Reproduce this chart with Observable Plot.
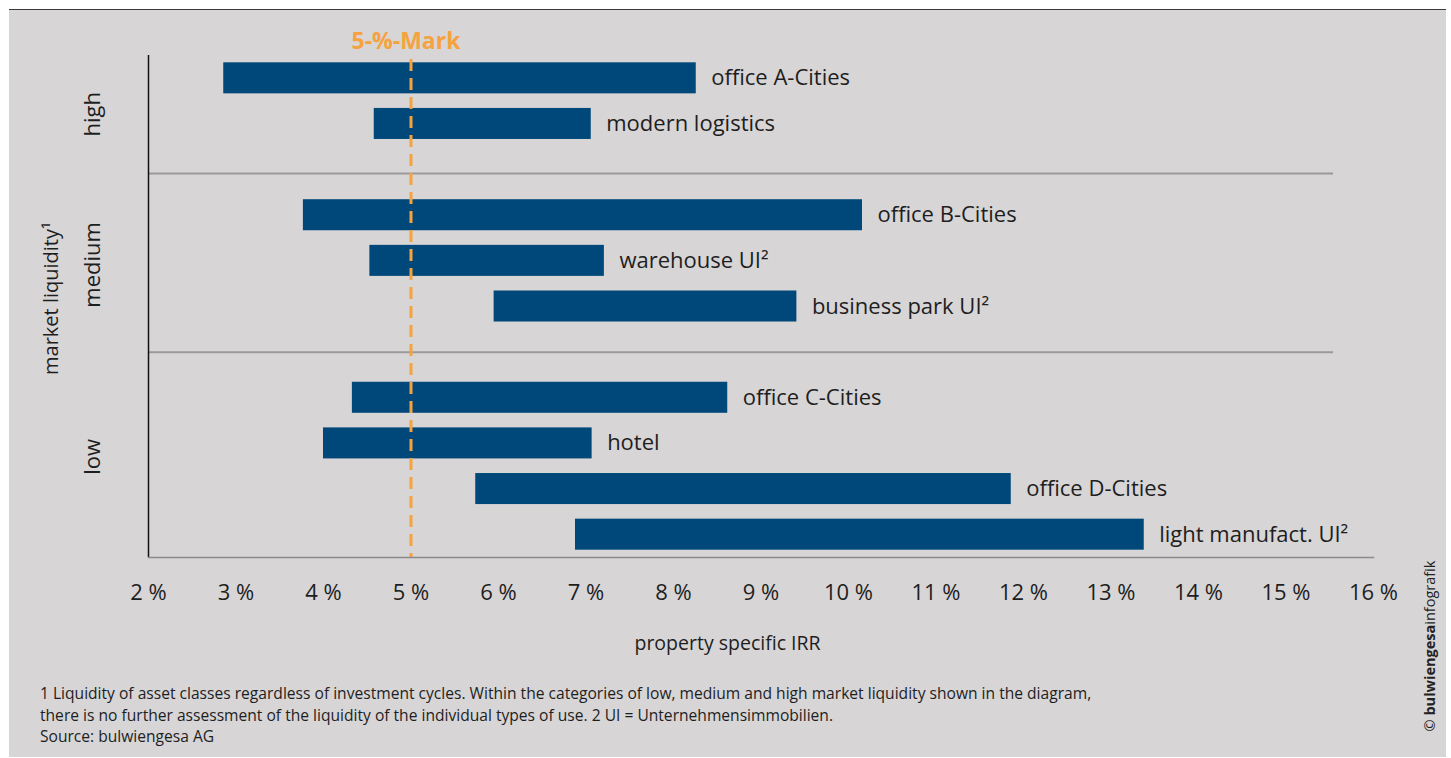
<!DOCTYPE html>
<html><head><meta charset="utf-8">
<script src="https://cdn.jsdelivr.net/npm/d3@7"></script>
<script src="https://cdn.jsdelivr.net/npm/@observablehq/plot@0.6"></script>
<style>
html,body{margin:0;padding:0;background:#fff;width:1451px;height:758px;overflow:hidden;font-family:"Open Sans",sans-serif;}
#panel{position:absolute;left:9px;top:9px;width:1437px;height:748px;background:#d7d5d6;border-top:1.5px solid #3a3a3a;box-sizing:border-box;}
#chart{position:absolute;left:0;top:0;}
#notes{position:absolute;left:40px;top:683px;font-size:15.6px;line-height:21.7px;color:#1e1e1e;white-space:nowrap;}
#copy{position:absolute;left:1430px;top:646px;transform:translate(-50%,-50%) rotate(-90deg);white-space:nowrap;font-size:14.5px;color:#222;line-height:1;}
</style></head><body>
<div id="panel"></div>
<div id="chart"></div>
<div id="notes">1 Liquidity of asset classes regardless of investment cycles. Within the categories of low, medium and high market liquidity shown in the diagram,<br>there is no further assessment of the liquidity of the individual types of use. 2 UI = Unternehmensimmobilien.<br>Source: bulwiengesa AG</div>
<div id="copy">© <b>bulwiengesa</b>infografik</div>
<script>
const categories = ["office A-Cities","modern logistics","office B-Cities","warehouse UI²","business park UI²","office C-Cities","hotel","office D-Cities","light manufact. UI²"];
const liquidity = ["high","high","medium","medium","medium","low","low","low","low"];
const irrMin = [2.86,4.58,3.77,4.53,5.95,4.33,4.00,5.74,6.88];
const irrMax = [8.26,7.06,10.16,7.21,9.41,8.62,7.07,11.86,13.38];
const xTicks = [2,3,4,5,6,7,8,9,10,11,12,13,14,15,16];
const liquidityLevels = ["high","medium","low"];
const markValue = 5;
const markLabel = "5-%-Mark";
const yTitle = "market liquidity¹";
const xTitle = "property specific IRR";

const rows = categories.map((name,i)=>({name, level: liquidity[i], lo: irrMin[i], hi: irrMax[i]}));
const domain = []; const spacers = [];
rows.forEach((r,i)=>{
  if(i>0 && r.level!==rows[i-1].level){const s="sep"+spacers.length; spacers.push(s); domain.push(s);}
  domain.push(r.name);
});

const orange = "#f6a23e";
const levelOffsets = {high: 36, medium: 4, low: 13.5};
const levelMarks = liquidityLevels.map(level => {
  const members = rows.filter(r => r.level === level);
  const anchor = members[Math.floor((members.length-1)/2)].name;
  return Plot.text([level], {y: [anchor], text: d=>d, frameAnchor:"left", textAnchor:"middle", dx:-56, dy: levelOffsets[level], rotate:-90, fontSize:22, fill:"#1e1e1e"});
});

const plot = Plot.plot({
  width:1451, height:680,
  marginLeft:148, marginRight:78, marginTop:55, marginBottom:123,
  style:{fontFamily:'"Open Sans", sans-serif', background:"transparent", color:"#1e1e1e", overflow:"visible"},
  x:{domain:[2,16]},
  y:{domain, paddingInner:0.32, paddingOuter:0.16, round:false, axis:null},
  marks:[
    Plot.axisX(xTicks, {tickSize:0, tickPadding:27, fontSize:22, tickFormat: d=>`${d} %`, label:null, fill:"#1e1e1e"}),
    ...spacers.map((s,i)=>Plot.ruleY([s], {stroke:"#9a9a9a", strokeWidth:2, insetRight:40, dy: i===0 ? 4 : 0})),
    Plot.barX(rows, {x1:"lo", x2:"hi", y:"name", fill:"#00487a"}),
    Plot.text(rows, {x:"hi", y:"name", text:"name", dx:15, textAnchor:"start", fontSize:22, fill:"#1e1e1e"}),
    Plot.ruleX([markValue], {stroke:orange, strokeWidth:3, strokeDasharray:"12,7", insetTop:4}),
    Plot.text([markLabel], {x:[markValue], text:d=>d, frameAnchor:"top", lineAnchor:"middle", dx:-5, dy:-14, fontWeight:700, fontSize:23, fill:orange}),
    Plot.ruleX([2], {stroke:"#111", strokeWidth:1.5}),
    Plot.frame({anchor:"bottom", stroke:"#8a8a8a", strokeWidth:1.5}),
    ...levelMarks,
    Plot.text([yTitle], {text:d=>d, frameAnchor:"left", textAnchor:"middle", dx:-97, dy:-8, rotate:-90, fontSize:20, fill:"#1e1e1e"}),
    Plot.text([xTitle], {text:d=>d, frameAnchor:"bottom", dx:-33.5, dy:92, fontSize:19.5, fill:"#1e1e1e"})
  ]
});
document.getElementById("chart").appendChild(plot);
</script>
</body></html>
